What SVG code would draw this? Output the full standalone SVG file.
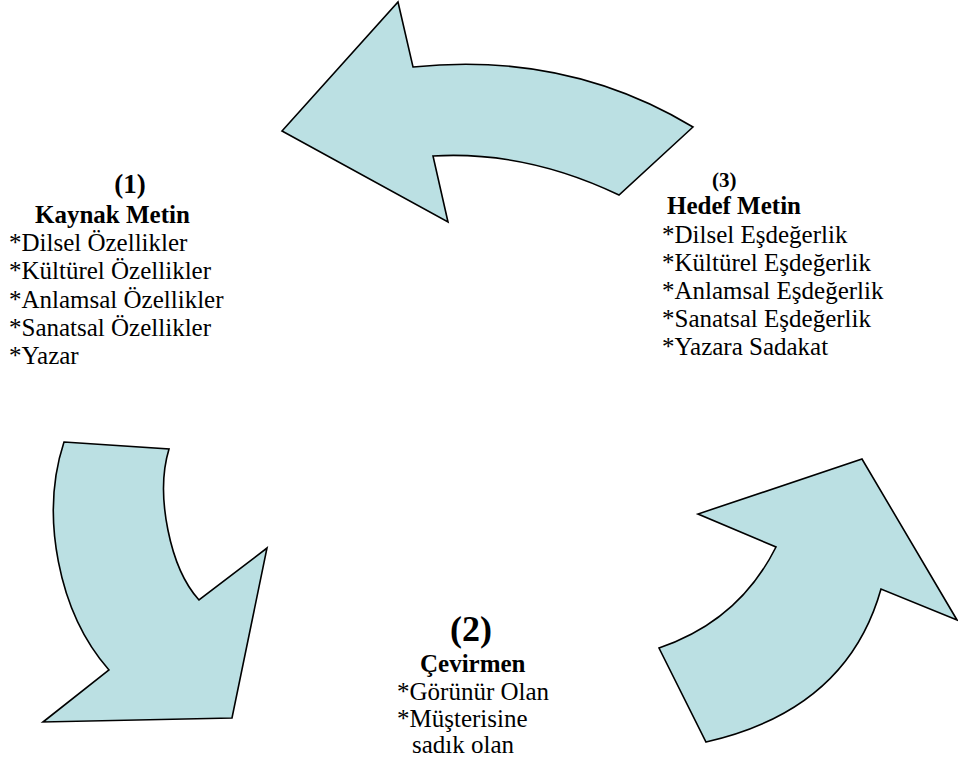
<svg xmlns="http://www.w3.org/2000/svg" width="958" height="769" viewBox="0 0 958 769">
<style>
.arrow{fill:#BBE0E3;stroke:#000;stroke-width:1.6;stroke-linejoin:miter}
text{font-family:'Liberation Serif','DejaVu Serif',serif;fill:#000}
.b{font-weight:bold}
.t{font-size:25px}
</style>
<rect width="958" height="769" fill="#fff"/>
<g id="connectors">
<path id="arrow-top" class="arrow" d="M282,131 L398,2 L413,67 Q567,51 693,127 L619,195 Q526,150.5 433,156 L448,222 Z"/>
<path id="arrow-left" class="arrow" d="M64,442 L169,449 C155,495 170,568 199,600 L267,548 L232,718 L43,722 L109,670 C58,612 40,515 64,442 Z"/>
<path id="arrow-right" class="arrow" d="M659,648 Q739,621 776,547 L698,514 L862,459 L957,620 L881,589 Q847,710 706,742 Z"/>
</g>
<g id="node-1" font-family="Liberation Serif, serif">
<text class="b" x="130" y="193" font-size="27" text-anchor="middle">(1)</text>
<text class="b t" x="35" y="222.5">Kaynak Metin</text>
<text class="t" x="9" y="251">*Dilsel Özellikler</text>
<text class="t" x="9" y="279">*Kültürel Özellikler</text>
<text class="t" x="9" y="307.5">*Anlamsal Özellikler</text>
<text class="t" x="9" y="335.5">*Sanatsal Özellikler</text>
<text class="t" x="9" y="364">*Yazar</text>
</g>
<g id="node-3">
<text class="b" x="712" y="186.5" font-size="21">(3)</text>
<text class="b t" x="667" y="214">Hedef Metin</text>
<text class="t" x="662" y="242.5">*Dilsel Eşdeğerlik</text>
<text class="t" x="662" y="270.5">*Kültürel Eşdeğerlik</text>
<text class="t" x="662" y="298.5">*Anlamsal Eşdeğerlik</text>
<text class="t" x="662" y="326.5">*Sanatsal Eşdeğerlik</text>
<text class="t" x="662" y="354.5">*Yazara Sadakat</text>
</g>
<g id="node-2">
<text class="b" x="450" y="641" font-size="36">(2)</text>
<text class="b t" x="420" y="672">Çevirmen</text>
<text class="t" x="397" y="700">*Görünür Olan</text>
<text class="t" x="397" y="727">*Müşterisine</text>
<text class="t" x="412" y="753">sadık olan</text>
</g>
</svg>
